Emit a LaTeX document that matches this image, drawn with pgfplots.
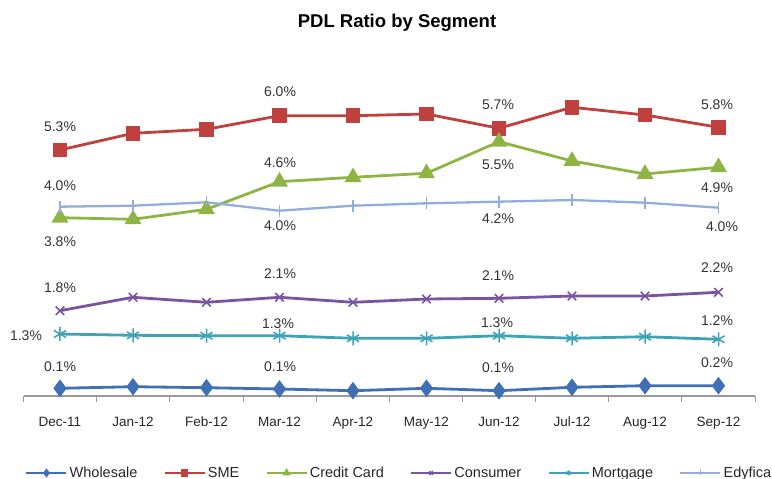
\documentclass[border=0pt]{standalone}
\usepackage{pgfplots}
\pgfplotsset{compat=1.18}
\usepackage{fontspec}
\setmainfont{Liberation Sans}

\definecolor{cWhole}{HTML}{3F6FB5}
\definecolor{cSME}{HTML}{C0403E}
\definecolor{cCard}{HTML}{8EB543}
\definecolor{cCons}{HTML}{7A54A0}
\definecolor{cMort}{HTML}{3FA3B8}
\definecolor{cEdy}{HTML}{92AEDC}
\definecolor{lbltxt}{HTML}{333333}

\tikzset{lbl/.style={font=\fontsize{14}{16}\selectfont, text=lbltxt, anchor=center}}

% y values are the heights of the points in the reference picture;
% the printed percentages are written as labels
\begin{document}
\begin{tikzpicture}
\begin{axis}[
    at={(24pt,83pt)}, anchor=south west,
    scale only axis,
    x=1pt, y=1pt,
    xmin=24, xmax=755, ymin=83, ymax=400,
    clip=false,
    hide y axis,
    axis x line*=bottom,
    x axis line style={draw=gray!80, line width=1.3pt},
    xtick={60,133,206.5,279.5,353,426.5,499,572,645,718.5},
    xticklabels={Dec-11,Jan-12,Feb-12,Mar-12,Apr-12,May-12,Jun-12,Jul-12,Aug-12,Sep-12},
    minor xtick={24,96.5,169.75,243,316.25,389.75,462.75,535.5,608.5,681.75,755},
    major tick length=0pt,
    minor tick length=6pt,
    tick align=outside,
    xtick pos=bottom,
    every minor tick/.style={draw=gray!80, line width=1pt},
    xticklabel style={anchor=base, yshift=-31pt, font=\fontsize{13.5}{15}\selectfont, text=black!85},
    legend columns=-1,
    legend style={at={(axis cs:22,6)}, anchor=west, draw=none, fill=none,
        font=\fontsize{14.5}{16}\selectfont, text=black!85,
        /tikz/every even column/.append style={column sep=24pt}},
    legend image code/.code={\draw[mark repeat=2,mark phase=2,#1,mark size=2.5pt,line width=2.5pt]
        plot coordinates {(0pt,0pt)(20pt,0pt)(40pt,0pt)};},
]
\addplot[color=cWhole, line width=2.8pt, mark=diamond*, mark size=6.5pt, mark options={solid}] coordinates {
  (60,90.7) (133,92.3) (206.5,91.3) (279.5,90) (353,88.3) (426.5,90.7) (499,88.3) (572,91.7) (645,93.3) (718.5,93.3)
};
\addlegendentry{Wholesale}
\addplot[color=cSME, line width=2.8pt, mark=square*, mark size=6pt] coordinates {
  (60,329) (133,345.7) (206.5,349.7) (279.5,363.3) (353,363.3) (426.5,365) (499,350.7) (572,371.7) (645,364) (718.5,351.7)
};
\addlegendentry{SME}
\addplot[color=cCard, line width=2.8pt, mark=triangle*, mark size=7pt] coordinates {
  (60,261.3) (133,259.7) (206.5,269.7) (279.5,297.3) (353,301.7) (426.5,305.7) (499,337.3) (572,318) (645,305) (718.5,311.7)
};
\addlegendentry{Credit Card}
\addplot[color=cCons, line width=2.8pt, mark=x, mark size=6pt, mark options={line width=1.5pt}] coordinates {
  (60,168.3) (133,181.7) (206.5,176.7) (279.5,181.7) (353,176.7) (426.5,180) (499,180.7) (572,183) (645,183) (718.5,186.7)
};
\addlegendentry{Consumer}
\addplot[color=cMort, line width=2.8pt, mark=asterisk, mark size=7pt, mark options={line width=1.5pt}] coordinates {
  (60,145) (133,143.7) (206.5,143.3) (279.5,143.3) (353,140.7) (426.5,140.7) (499,143.3) (572,140.7) (645,142.3) (718.5,139.7)
};
\addlegendentry{Mortgage}
\addplot[color=cEdy, line width=2.3pt, mark=|, mark size=6pt, mark options={line width=1.2pt}] coordinates {
  (60,272.3) (133,273.3) (206.5,276.7) (279.5,268.3) (353,273.3) (426.5,275.7) (499,277.3) (572,279) (645,276.3) (718.5,271.3)
};
\addlegendentry{Edyficar}

% title
\node[font=\bfseries\fontsize{18.5}{20}\selectfont, text=black] at (axis cs:397,456) {PDL Ratio by Segment};

% data labels
\node[lbl] at (axis cs:60,352) {5.3\%};
\node[lbl] at (axis cs:280,387) {6.0\%};
\node[lbl] at (axis cs:498,374) {5.7\%};
\node[lbl] at (axis cs:717,374.7) {5.8\%};
\node[lbl] at (axis cs:60,293.3) {4.0\%};
\node[lbl] at (axis cs:60,237.3) {3.8\%};
\node[lbl] at (axis cs:280,316.3) {4.6\%};
\node[lbl] at (axis cs:280,253) {4.0\%};
\node[lbl] at (axis cs:498,314) {5.5\%};
\node[lbl] at (axis cs:498,260.7) {4.2\%};
\node[lbl] at (axis cs:717,291.7) {4.9\%};
\node[lbl] at (axis cs:722,252.3) {4.0\%};
\node[lbl] at (axis cs:60,191.7) {1.8\%};
\node[lbl] at (axis cs:280,205) {2.1\%};
\node[lbl] at (axis cs:498,203) {2.1\%};
\node[lbl] at (axis cs:717,211) {2.2\%};
\node[lbl] at (axis cs:26,143.3) {1.3\%};
\node[lbl] at (axis cs:278,155.7) {1.3\%};
\node[lbl] at (axis cs:497,156.3) {1.3\%};
\node[lbl] at (axis cs:717,158.3) {1.2\%};
\node[lbl] at (axis cs:60,112.3) {0.1\%};
\node[lbl] at (axis cs:280,112.3) {0.1\%};
\node[lbl] at (axis cs:498,111.3) {0.1\%};
\node[lbl] at (axis cs:717,116.3) {0.2\%};
\end{axis}
\pgfresetboundingbox
\path[use as bounding box] (0pt,0pt) rectangle (772pt,479pt);
\end{tikzpicture}
\end{document}
